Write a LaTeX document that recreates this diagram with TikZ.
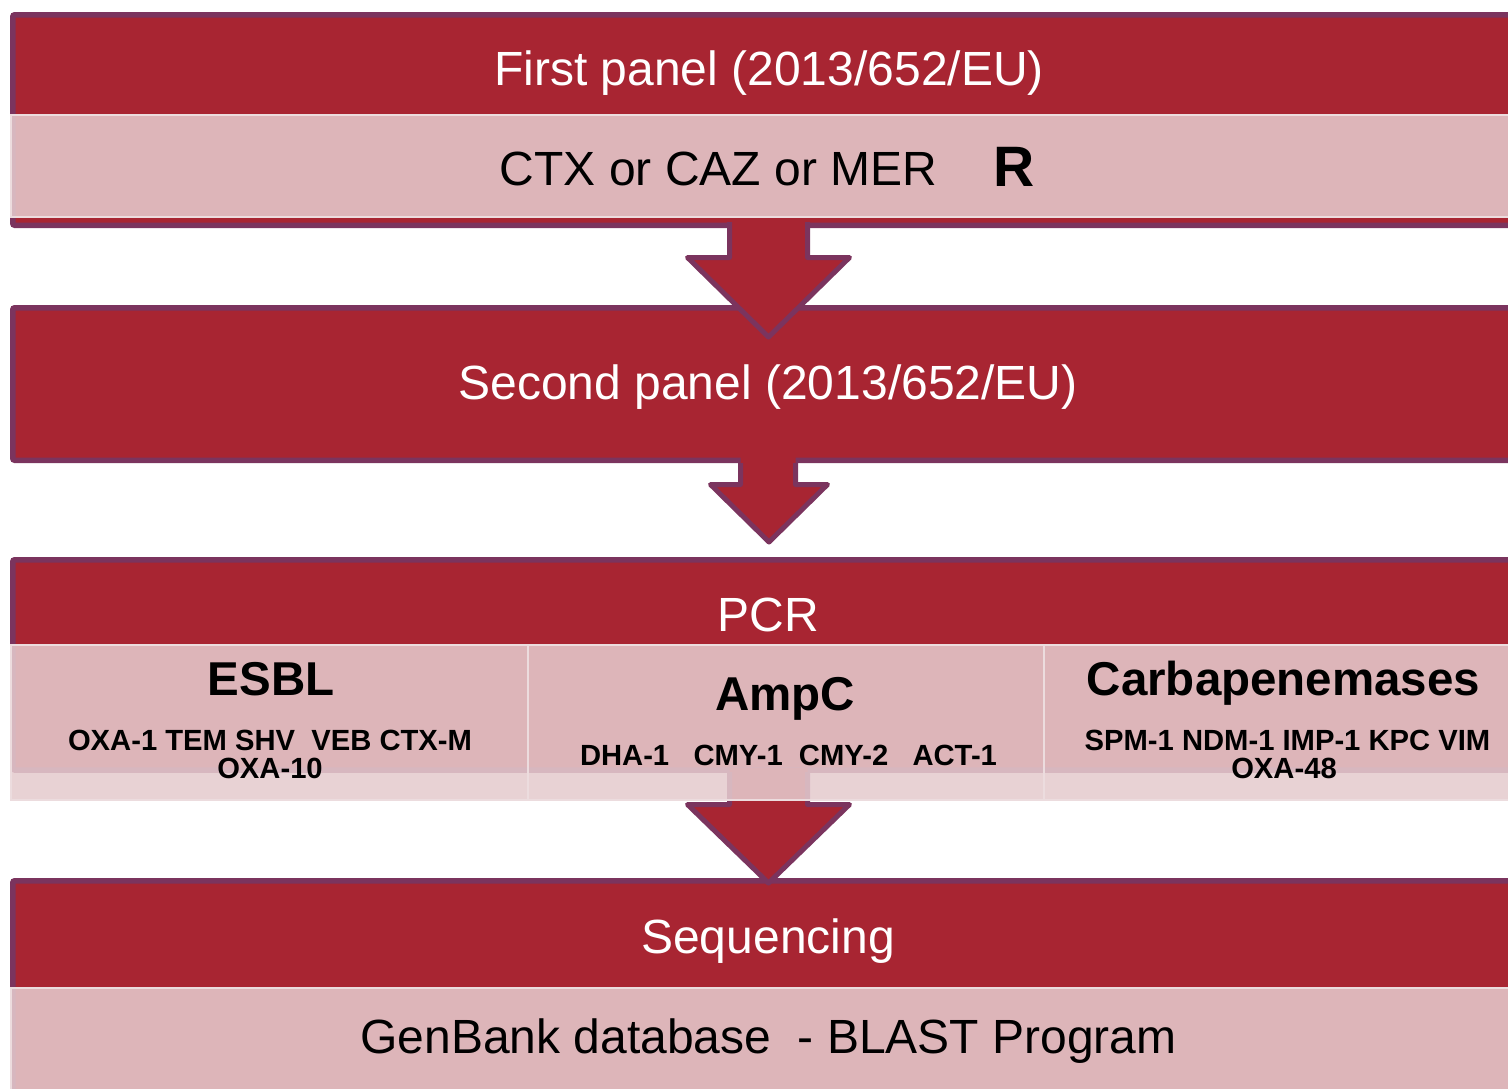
\documentclass[tikz,border=0pt]{standalone}
\usepackage{fontspec}
\setmainfont{Liberation Sans}
\definecolor{boxred}{RGB}{168,37,50}
\definecolor{boxpurple}{RGB}{123,52,94}
\definecolor{pinkfill}{RGB}{229,203,206}
\definecolor{pinkedge}{RGB}{236,220,222}
\tikzset{
  redbox/.style={fill=boxred, draw=boxpurple, line width=5.5pt, rounded corners=2pt},
  pinkband/.style={fill=pinkfill, fill opacity=0.87, draw=pinkedge, line width=2.5pt},
  arrowfill/.style={fill=boxred},
  arrowline/.style={draw=boxpurple, line width=5pt, line join=round},
  title/.style={text=white, font=\fontsize{48}{56}\selectfont, anchor=base, inner sep=0pt},
  bodytext/.style={text=black, font=\fontsize{48}{56}\selectfont, anchor=base, inner sep=0pt},
  headtext/.style={text=black, font=\fontsize{47.5}{55}\selectfont\bfseries, anchor=base, inner sep=0pt},
  genetext/.style={text=black, font=\fontsize{29.2}{34}\selectfont\bfseries, anchor=base, inner sep=0pt},
}
\begin{document}
\begin{tikzpicture}[x=1pt,y=-1pt]
\useasboundingbox (0,0) rectangle (1508,1088);
\begin{scope}
\clip (0,0) rectangle (1508,1088);
% box 4 : sequencing
\path[redbox] (12.75,880.75) rectangle (1540,1110);
\path[pinkband] (11,988) rectangle (1530,1100);
% box 3 : PCR
\path[redbox] (12.75,559.75) rectangle (1540,770);
% arrow 3
\path[arrowfill] (729.5,768) -- (729.5,804.5) -- (687.5,804.5) -- (768.5,883) -- (849.5,804.5) -- (807.5,804.5) -- (807.5,768) -- cycle;
\path[arrowline] (807.5,772) -- (807.5,804.5) -- (849.5,804.5) -- (768.5,883) -- (687.5,804.5) -- (729.5,804.5) -- (729.5,772);
% PCR sub boxes
\path[pinkband] (11,645) rectangle (528,800);
\path[pinkband] (528,645) rectangle (1044,800);
\path[pinkband] (1044,645) rectangle (1530,800);
% box 2
\path[redbox] (12.75,307.75) rectangle (1540,460.25);
% arrow 2
\path[arrowfill] (740.5,457) -- (740.5,484.5) -- (710.5,484.5) -- (769,542) -- (827.5,484.5) -- (795.5,484.5) -- (795.5,457) -- cycle;
\path[arrowline] (795.5,463) -- (795.5,484.5) -- (827.5,484.5) -- (769,542) -- (710.5,484.5) -- (740.5,484.5) -- (740.5,463);
% box 1
\path[redbox] (12.75,14.75) rectangle (1540,225.25);
% arrow 1
\path[arrowfill] (729.5,215) -- (729.5,257.5) -- (687.5,257.5) -- (768.5,337) -- (849.5,257.5) -- (807.5,257.5) -- (807.5,215) -- cycle;
\path[arrowline] (807.5,222) -- (807.5,257.5) -- (849.5,257.5) -- (768.5,337) -- (687.5,257.5) -- (729.5,257.5) -- (729.5,222);
\path[pinkband] (11,115) rectangle (1530,217);
\end{scope}
% texts
\node[title] (t1) at (769,85) {First panel (2013/652/EU)};
\node[bodytext] (t1b) at (718.5,185) {CTX or CAZ or MER};
\node[text=black, font=\fontsize{57}{60}\selectfont\bfseries, anchor=base, inner sep=0pt] (t1r) at (1014,186) {R};
\node[title] (t2) at (768,399) {Second panel (2013/652/EU)};
\node[title] (t3) at (768,631) {PCR};
\node[headtext] (esbl) at (271,695) {ESBL};
\node[genetext] (esblg1) at (270,750) {OXA-1 TEM SHV\ \ VEB CTX-M};
\node[genetext] (esblg2) at (270,778) {OXA-10};
\node[headtext] (ampc) at (785,710) {AmpC};
\node[genetext] (ampcg) at (788.5,765) {DHA-1\ \ \ CMY-1\ \ CMY-2\ \ \ ACT-1};
\node[headtext] (carb) at (1283.5,695) {Carbapenemases};
\node[genetext] (carbg1) at (1287.5,750) {SPM-1 NDM-1 IMP-1 KPC VIM};
\node[genetext] (carbg2) at (1284,778) {OXA-48};
\node[title] (t4) at (768,953) {Sequencing};
\node[bodytext] (t4b) at (768.5,1053) {GenBank database\ \ - BLAST Program};
\end{tikzpicture}
\end{document}
